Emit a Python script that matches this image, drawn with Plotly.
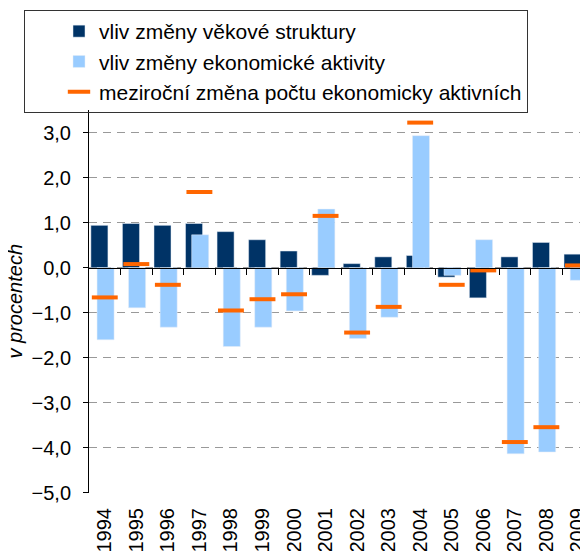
import plotly.graph_objects as go

years = ["1994", "1995", "1996", "1997", "1998", "1999", "2000", "2001",
         "2002", "2003", "2004", "2005", "2006", "2007", "2008", "2009"]
vekova = [0.94, 0.98, 0.94, 0.98, 0.80, 0.62, 0.37, -0.17,
          0.09, 0.24, 0.27, -0.21, -0.67, 0.24, 0.56, 0.30]
aktivita = [-1.60, -0.89, -1.32, 0.73, -1.75, -1.32, -0.96, 1.30,
            -1.57, -1.10, 2.93, -0.17, 0.62, -4.13, -4.09, -0.28]
zmena = [-0.66, 0.08, -0.38, 1.68, -0.95, -0.70, -0.59, 1.15,
         -1.44, -0.87, 3.22, -0.38, -0.06, -3.87, -3.54, 0.05]

names = ["vliv změny věkové struktury",
         "vliv změny ekonomické aktivity",
         "meziroční změna počtu ekonomicky aktivních"]

FONT = "Liberation Sans, Arial, sans-serif"
pos = list(range(len(years)))

W, H = 580, 543          # figure size (page has an 8 px body margin)
OFF = 8


def fx(px):               # page x pixel -> paper fraction
    return (px - OFF) / W


def fy(py):               # page y pixel -> paper fraction
    return 1 - (py - OFF) / H


# plot area and legend frame in page pixels
plot_l, plot_r, plot_t, plot_b = 89, 588, 110, 493
box_l, box_t = 24, 10

fig = go.Figure()
fig.add_trace(go.Bar(x=pos, y=vekova, name=names[0], marker_color="#003366",
                     width=0.54, offset=-0.44, legendgroup="a"))
fig.add_trace(go.Bar(x=pos, y=aktivita, name=names[1], marker_color="#99CCFF",
                     width=0.54, offset=-0.245, legendgroup="b"))
fig.add_trace(go.Scatter(x=pos, y=zmena, name=names[2], mode="markers",
                         marker=dict(symbol="line-ew", size=18.5,
                                     line=dict(color="#FF6600", width=4),
                                     color="#FF6600"),
                         legendgroup="c"))
# helper trace so the zero-level axis is drawn
fig.add_trace(go.Scatter(x=[None], y=[None], xaxis="x2", showlegend=False,
                         hoverinfo="skip"))

ymin, ymax = -5.0, 3.5
xr = [-0.5, 15.32]
ydom = [fy(plot_b), fy(plot_t)]
zero_pos = ydom[0] + (0 - ymin) / (ymax - ymin) * (ydom[1] - ydom[0])

fig.update_layout(
    width=W, height=H,
    margin=dict(l=0, r=0, t=0, b=0, autoexpand=False),
    paper_bgcolor="white", plot_bgcolor="white",
    barmode="overlay",
    separators=", ",
    font=dict(family=FONT, size=20, color="black"),
    showlegend=True,
    legend=dict(x=fx(box_l), xanchor="left", y=fy(box_t), yanchor="top",
                bgcolor="rgba(255,255,255,0)", borderwidth=1,
                bordercolor="#333333",
                indentation=34, entrywidth=500, entrywidthmode="pixels",
                font=dict(family=FONT, size=21, color="black"),
                tracegroupgap=0),
    xaxis=dict(domain=[fx(plot_l), fx(plot_r)], anchor="y",
               range=xr, tickmode="array", tickvals=pos, ticktext=years,
               tickangle=-90, showgrid=False, showline=False, ticks="",
               zeroline=False, tickfont=dict(size=20), ticklabelstandoff=10,
               ticklabeloverflow="allow"),
    xaxis2=dict(range=xr, overlaying="x", anchor="free", position=zero_pos,
                showline=True, linecolor="black", linewidth=1,
                ticks="outside", ticklen=6, tickcolor="black",
                tickmode="array", tickvals=[p + 0.5 for p in pos[:-1]],
                showticklabels=False, showgrid=False, zeroline=False),
    yaxis=dict(domain=ydom, anchor="x",
               range=[ymin - 0.001, ymax], dtick=1, tick0=0, tickformat=".1f",
               showline=True, linecolor="black", linewidth=1,
               ticks="outside", ticklen=5, tickcolor="black",
               showgrid=True, gridcolor="#999999", griddash="8px,6px",
               zeroline=False, tickfont=dict(size=20), ticklabelstandoff=8),
    annotations=[
        dict(text="v procentech", xref="paper", yref="paper",
             x=fx(14), y=(ydom[0] + ydom[1]) / 2, textangle=-90,
             showarrow=False, xanchor="center", yanchor="middle",
             font=dict(family=FONT, size=20, style="italic", color="black")),
    ],
)

fig.write_html("out.html")
